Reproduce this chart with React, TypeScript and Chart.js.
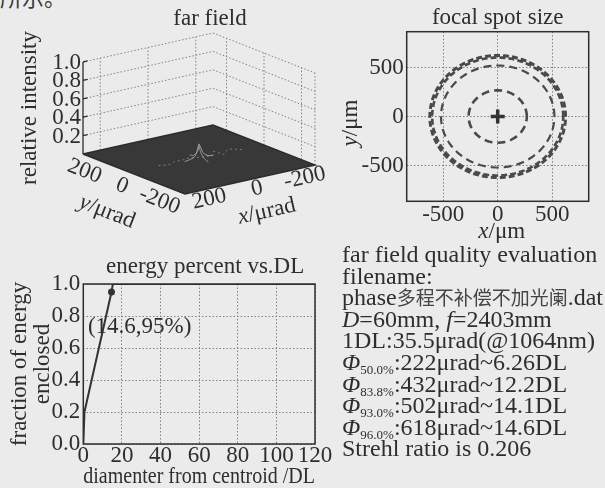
import React, { useEffect, useRef } from 'react';
import { Chart, registerables } from 'chart.js';

Chart.register(...registerables);

const SERIF = '"Liberation Serif", "Times New Roman", serif';
const CJK = '"Noto Sans CJK SC", sans-serif';
const INK = '#2e2e2e';
const GRID = '#808080';
const BG = '#ebebeb';

// ---------- far field (3D) ----------
const farTitle = 'far field';
const farZTitle = 'relative intensity';
const farAxisLimit = 272; // μrad, half range of x and y
const farTicks = [200, 0, -200];
const farZTicks = [0.2, 0.4, 0.6, 0.8, 1.0];
const peakAlongX = [-60, -40, -25, -15, -8, 0, 8, 15, 25, 40, 60];
const peakAlongXValues = [0.01, 0.02, 0.04, 0.07, 0.12, 0.17, 0.1, 0.05, 0.03, 0.02, 0.01];
const peakAlongY = [-50, -30, -15, -6, 0, 6, 15, 30, 50];
const peakAlongYValues = [0.01, 0.03, 0.06, 0.1, 0.15, 0.09, 0.05, 0.02, 0.01];
const streakX = [-170, -130, -95, -70, -45, 45, 70, 95, 130, 170];
const streakValues = [0.02, 0.03, 0.01, 0.04, 0.02, 0.03, 0.05, 0.02, 0.03, 0.02];

// ---------- focal spot ----------
const focalTitle = 'focal spot size';
const focalLimitX = 835; // μm
const focalLimitY = 865; // μm
const focalTicks = [-500, 0, 500];
const encircledLevels = ['50.0%', '83.8%', '93.0%', '96.0%'];
const encircledMicrorad = [222, 432, 502, 618];
const encircledDL = [6.26, 12.2, 14.1, 14.6];
const dlMicrorad = 35.5;
const apertureMm = 60;
const focalLengthMm = 2403;
const wavelengthNm = 1064;
const strehlRatio = 0.206;
const fileName = 'phase多程不补偿不加光阑.dat';

// ---------- energy percent ----------
const energyTitle = 'energy percent vs.DL';
const energyDiameter = [0, 0.6, 14.6, 15.3, 120];
const energyFraction = [0, 0.2, 0.95, 1.0, 1.0];
const energyMarkIndex = 2;
const energyXTicks = [0, 20, 40, 60, 80, 100, 120];
const energyYTicks = [0, 0.2, 0.4, 0.6, 0.8, 1.0];

// ---------- helpers ----------
const proj = (x: number, y: number, z: number): [number, number] => {
  const s = 2 * farAxisLimit;
  return [199 + (-130 * x - 102 * y) / s, 159.5 + (29 * x - 40 * y) / s - 92 * z];
};
type P3 = [number, number, number];
const seg = (pts: P3[]) => pts.map(([a, b, c]) => { const [px, py] = proj(a, b, c); return { x: px, y: py }; });
const joinSegs = (segs: P3[][]) => segs.flatMap((s, i) => (i ? [{ x: null, y: null }, ...seg(s)] : seg(s)));

const drawMixed = (ctx: CanvasRenderingContext2D, parts: { t: string; i?: boolean }[], cx: number, cy: number, ang: number, size = 23) => {
  ctx.save();
  ctx.translate(cx, cy);
  ctx.rotate(ang);
  ctx.textBaseline = 'middle';
  ctx.textAlign = 'left';
  const fonts = parts.map(p => `${p.i ? 'italic ' : ''}${size}px ${SERIF}`);
  let w = 0;
  parts.forEach((p, k) => { ctx.font = fonts[k]; w += ctx.measureText(p.t).width; });
  let x = -w / 2;
  parts.forEach((p, k) => { ctx.font = fonts[k]; ctx.fillText(p.t, x, 0); x += ctx.measureText(p.t).width; });
  ctx.restore();
};

const framePlugin = {
  id: 'frame',
  afterDraw(chart: any) {
    const { ctx, chartArea: a } = chart;
    ctx.save();
    ctx.strokeStyle = INK;
    ctx.lineWidth = 1.5;
    ctx.strokeRect(a.left, a.top, a.right - a.left, a.bottom - a.top);
    ctx.restore();
  },
};

const tickFont = { family: SERIF, size: 23, lineHeight: 1 };

function farConfig(): any {
  const R = farAxisLimit;
  const leftWall: P3[][] = [
    ...farZTicks.map(z => [[R, R, z], [-R, R, z]] as P3[]),
    ...farTicks.map(t => [[t, R, 0], [t, R, 1]] as P3[]),
  ];
  const rightWall: P3[][] = [
    ...farZTicks.map(z => [[-R, R, z], [-R, -R, z]] as P3[]),
    ...farTicks.map(t => [[-R, t, 0], [-R, t, 1]] as P3[]),
    [[-R, -R, 0], [-R, -R, 1]],
  ];
  const tickLen = 0.035 * 2 * R;
  const zAxis: P3[][] = [
    [[R, R, 0], [R, R, 1]],
    ...farZTicks.map(z => [[R, R, z], [R - tickLen, R, z]] as P3[]),
  ];
  const floor: P3[] = [[R, R, 0], [-R, R, 0], [-R, -R, 0], [R, -R, 0], [R, R, 0]];
  const peakX: P3[] = peakAlongX.map((v, i) => [v, 0, peakAlongXValues[i]]);
  const peakY: P3[] = peakAlongY.map((v, i) => [0, v, peakAlongYValues[i]]);
  const streak: P3[] = streakX.map((v, i) => [v, (i % 2 ? 12 : -12), streakValues[i]]);
  const dotted = { borderColor: GRID, borderWidth: 1, borderDash: [1.5, 2], pointRadius: 0, showLine: true, fill: false };
  return {
    type: 'scatter',
    data: {
      datasets: [
        { data: seg(peakX), borderColor: '#9c9c9c', borderWidth: 1, pointRadius: 0, showLine: true, order: 0 },
        { data: seg(peakY), borderColor: '#8e8e8e', borderWidth: 1, pointRadius: 0, showLine: true, order: 0 },
        { data: seg(streak), borderColor: '#7e7e7e', borderWidth: 1, borderDash: [2, 3], pointRadius: 0, showLine: true, order: 0 },
        { data: seg(floor), borderColor: '#2c2c2c', borderWidth: 1.5, backgroundColor: '#383838', fill: 'shape', pointRadius: 0, showLine: true, order: 1 },
        { data: joinSegs(zAxis), borderColor: INK, borderWidth: 1.3, pointRadius: 0, showLine: true, spanGaps: false, order: 2 },
        { ...dotted, data: joinSegs(leftWall), spanGaps: false, order: 3 },
        { ...dotted, data: joinSegs(rightWall), spanGaps: false, order: 3 },
      ],
    },
    options: {
      animation: false,
      responsive: false,
      devicePixelRatio: 1,
      layout: { padding: 0 },
      plugins: { legend: { display: false }, tooltip: { enabled: false }, title: { display: false } },
      scales: {
        x: { type: 'linear', min: 0, max: 330, display: false },
        y: { type: 'linear', min: 0, max: 250, reverse: true, display: false },
      },
    },
    plugins: [
      {
        id: 'farLabels',
        afterDraw(chart: any) {
          const { ctx, scales } = chart;
          const P = (a: number, b: number, c: number) => {
            const [px, py] = proj(a, b, c);
            return [scales.x.getPixelForValue(px), scales.y.getPixelForValue(py)];
          };
          ctx.save();
          ctx.fillStyle = INK;
          ctx.font = `23px ${SERIF}`;
          ctx.textAlign = 'center';
          ctx.textBaseline = 'alphabetic';
          ctx.fillText(farTitle, 210, 25);
          ctx.textAlign = 'right';
          ctx.textBaseline = 'middle';
          farZTicks.forEach(z => {
            const [px, py] = P(R, R, z);
            ctx.fillText(z.toFixed(1), px - 2, py + 1);
          });
          ctx.restore();
          ctx.fillStyle = INK;
          drawMixed(ctx, [{ t: farZTitle }], 30, 108, -Math.PI / 2);
          const angY = Math.atan2(40, 102);
          const angX = Math.atan2(-29, 130);
          farTicks.forEach(t => {
            const [px, py] = P(R, t, 0);
            drawMixed(ctx, [{ t: String(t) }], px - 12, py + 12, angY);
          });
          farTicks.forEach(t => {
            const [px, py] = P(t, -R, 0);
            drawMixed(ctx, [{ t: String(t) }], px + 7, py + 9, angX);
          });
          const [yx, yy] = P(R, 0, 0);
          drawMixed(ctx, [{ t: 'y', i: true }, { t: '/μrad' }], yx - 27, yy + 38, angY);
          const [xx, xy] = P(0, -R, 0);
          drawMixed(ctx, [{ t: 'x', i: true }, { t: '/μrad' }], xx + 17, xy + 32, angX);
        },
      },
    ],
  };
}

function focalConfig(): any {
  const radii = encircledDL.map(d => (d * dlMicrorad * (focalLengthMm / 1000)) / 2);
  const styles = [
    { w: 2.6, dash: [8, 5] },
    { w: 2.2, dash: [8, 5] },
    { w: 2.6, dash: [6, 3] },
    { w: 3, dash: [6, 3] },
  ];
  const angles = Array.from({ length: 121 }, (_, k) => (k * Math.PI) / 60);
  const circles = radii.map((r, i) => ({
    data: angles.map(a => ({ x: r * Math.cos(a), y: r * Math.sin(a) })),
    showLine: true,
    pointRadius: 0,
    borderColor: '#4a4a4a',
    borderWidth: styles[i].w,
    borderDash: styles[i].dash,
    fill: false,
  }));
  const axisCommon = {
    type: 'linear',
    grid: { color: GRID, lineWidth: 1, drawTicks: false },
    border: { display: false, dash: [1.5, 2] },
    ticks: { font: tickFont, color: INK, autoSkip: false, maxRotation: 0 },
  };
  return {
    type: 'scatter',
    data: {
      datasets: [
        { data: [{ x: 0, y: 0 }], pointStyle: 'cross', pointRadius: 7, borderWidth: 3.5, borderColor: '#333', showLine: false },
        ...circles,
      ],
    },
    options: {
      animation: false,
      responsive: false,
      devicePixelRatio: 1,
      layout: { padding: { left: 0, right: 16.3, top: 0, bottom: 0 } },
      plugins: {
        legend: { display: false },
        tooltip: { enabled: false },
        title: {
          display: true, text: focalTitle, fullSize: false, color: INK,
          font: { family: SERIF, size: 23, weight: 'normal', lineHeight: 1 },
          padding: { top: 6.5, bottom: 2.2 },
        },
      },
      scales: {
        x: {
          ...axisCommon, min: -focalLimitX, max: focalLimitX,
          afterBuildTicks: (s: any) => { s.ticks = focalTicks.map(v => ({ value: v })); },
          afterFit: (s: any) => { s.height = 48.7; },
          ticks: { ...axisCommon.ticks, padding: 2 },
        },
        y: {
          ...axisCommon, min: -focalLimitY, max: focalLimitY,
          afterBuildTicks: (s: any) => { s.ticks = focalTicks.map(v => ({ value: v })); },
          afterFit: (s: any) => { s.width = 106.7; },
          ticks: { ...axisCommon.ticks, padding: 3 },
        },
      },
    },
    plugins: [
      framePlugin,
      {
        id: 'focalTitles',
        afterDraw(chart: any) {
          const { ctx, chartArea: a } = chart;
          ctx.fillStyle = INK;
          drawMixed(ctx, [{ t: 'x', i: true }, { t: '/μm' }], (a.left + a.right) / 2 + 4, a.bottom + 31, 0);
          drawMixed(ctx, [{ t: 'y', i: true }, { t: '/μm' }], a.left - 56, (a.top + a.bottom) / 2 + 6.5, -Math.PI / 2);
        },
      },
    ],
  };
}

function energyConfig(): any {
  const markLabel = `(${energyDiameter[energyMarkIndex]},${Math.round(energyFraction[energyMarkIndex] * 100)}%)`;
  const axisCommon = {
    type: 'linear',
    grid: { color: GRID, lineWidth: 1, drawTicks: false },
    border: { display: false, dash: [1.5, 2] },
  };
  return {
    type: 'scatter',
    data: {
      datasets: [
        {
          data: energyDiameter.map((d, i) => ({ x: d, y: energyFraction[i] })),
          showLine: true,
          borderColor: '#333',
          borderWidth: 2,
          pointRadius: (c: any) => (c.dataIndex === energyMarkIndex ? 3.5 : 0),
          pointBackgroundColor: '#333',
          pointBorderWidth: 0,
          fill: false,
        },
      ],
    },
    options: {
      animation: false,
      responsive: false,
      devicePixelRatio: 1,
      layout: { padding: { left: 8.5, right: 20, top: 34, bottom: 0 } },
      plugins: {
        legend: { display: false },
        tooltip: { enabled: false },
        title: { display: false },
      },
      scales: {
        x: {
          ...axisCommon, min: 0, max: 120,
          afterBuildTicks: (s: any) => { s.ticks = energyXTicks.map(v => ({ value: v })); },
          afterFit: (s: any) => { s.height = 44; },
          ticks: { font: tickFont, color: INK, autoSkip: false, maxRotation: 0, padding: 0 },
          title: { display: true, text: 'diamenter from centroid /DL', color: INK, font: tickFont, padding: { top: 0, bottom: 0 } },
        },
        y: {
          ...axisCommon, min: 0, max: 1,
          afterBuildTicks: (s: any) => { s.ticks = energyYTicks.map(v => ({ value: v })); },
          afterFit: (s: any) => { s.width = 74.8; },
          ticks: { font: tickFont, color: INK, autoSkip: false, padding: 3, callback: (v: any) => Number(v).toFixed(1) },
          title: { display: true, text: ['fraction of energy', 'enclosed'], color: INK, font: tickFont, padding: { top: 0, bottom: 0 } },
        },
      },
    },
    plugins: [
      framePlugin,
      {
        id: 'energyText',
        afterDraw(chart: any) {
          const { ctx, scales, chartArea: a } = chart;
          ctx.save();
          ctx.font = `23px ${SERIF}`;
          ctx.fillStyle = INK;
          ctx.textAlign = 'center';
          ctx.textBaseline = 'alphabetic';
          ctx.fillText(energyTitle, (a.left + a.right) / 2 + 6, a.top - 11);
          ctx.textAlign = 'left';
          ctx.textBaseline = 'middle';
          ctx.fillText(markLabel, scales.x.getPixelForValue(2.4), scales.y.getPixelForValue(0.73));
          ctx.restore();
        },
      },
    ],
  };
}

const lineStyle: React.CSSProperties = { height: 21.6, lineHeight: '21.6px', whiteSpace: 'nowrap' };
const subStyle: React.CSSProperties = { fontSize: 13, lineHeight: 0, position: 'relative', top: 4 };

export default function App() {
  const farRef = useRef<HTMLCanvasElement>(null);
  const focalRef = useRef<HTMLCanvasElement>(null);
  const energyRef = useRef<HTMLCanvasElement>(null);

  useEffect(() => {
    const charts = [
      new Chart(farRef.current as HTMLCanvasElement, farConfig()),
      new Chart(focalRef.current as HTMLCanvasElement, focalConfig()),
      new Chart(energyRef.current as HTMLCanvasElement, energyConfig()),
    ];
    return () => charts.forEach(c => c.destroy());
  }, []);

  const m = fileName.match(/^([A-Za-z]+)(.*?)(\.[a-z]+)$/);
  return (
    <div style={{ position: 'absolute', left: 0, top: 0, width: 605, height: 488, background: BG, overflow: 'hidden', color: INK, fontFamily: SERIF }}>
      <div style={{ position: 'absolute', left: 0, top: -15, fontFamily: CJK, fontSize: 22, lineHeight: '22px', color: '#3a3a3a', whiteSpace: 'nowrap' }}>所示。</div>
      <canvas ref={farRef} width={330} height={250} style={{ position: 'absolute', left: 0, top: 0 }} />
      <canvas ref={focalRef} width={305} height={250} style={{ position: 'absolute', left: 300, top: 0 }} />
      <canvas ref={energyRef} width={335} height={238} style={{ position: 'absolute', left: 0, top: 250 }} />
      <div style={{ position: 'absolute', left: 342, top: 244.1, fontSize: 24 }}>
        <div style={lineStyle}>far field quality evaluation</div>
        <div style={lineStyle}>filename:</div>
        <div style={lineStyle}>
          {m ? m[1] : ''}
          <span style={{ fontFamily: CJK, fontSize: 19, lineHeight: 0, color: '#444' }}>{m ? m[2] : fileName}</span>
          {m ? m[3] : ''}
        </div>
        <div style={lineStyle}>
          <i>D</i>={apertureMm}mm, <i>f</i>={focalLengthMm}mm
        </div>
        <div style={lineStyle}>1DL:{dlMicrorad}μrad(@{wavelengthNm}nm)</div>
        {encircledLevels.map((lv, i) => (
          <div key={lv} style={lineStyle}>
            <i>Φ</i>
            <span style={subStyle}>{lv}</span>:{encircledMicrorad[i]}μrad~{encircledDL[i]}DL
          </div>
        ))}
        <div style={lineStyle}>Strehl ratio is {strehlRatio}</div>
      </div>
    </div>
  );
}
